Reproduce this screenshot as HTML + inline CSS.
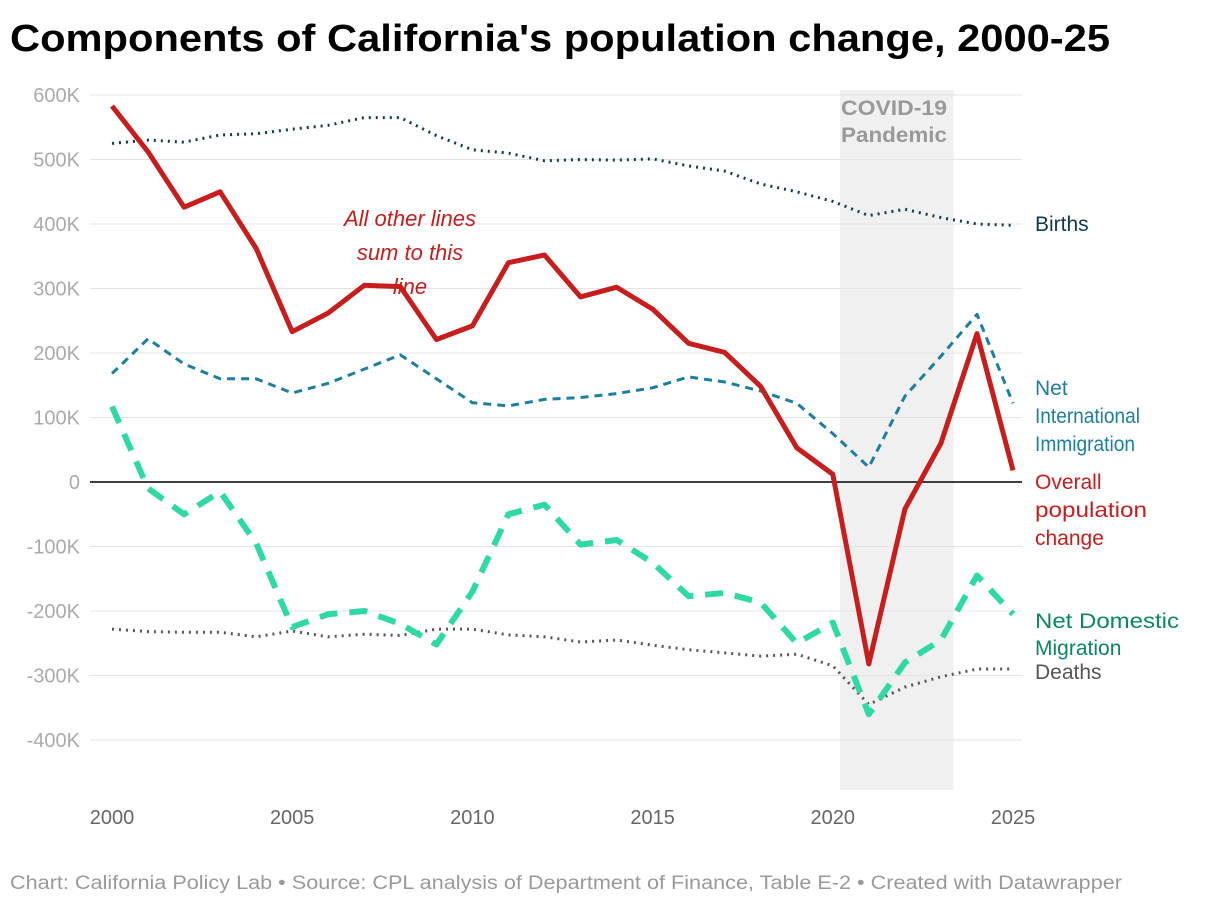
<!DOCTYPE html>
<html><head><meta charset="utf-8"><style>
body{margin:0;background:#fff;font-family:"Liberation Sans",sans-serif;}
</style></head><body>
<svg width="1220" height="906" id="chart" style="display:block">
<text x="10" y="51" font-size="38" font-weight="bold" fill="#000" textLength="1100" lengthAdjust="spacingAndGlyphs">Components of California's population change, 2000-25</text>
<rect id="covid" fill="#f0f0f0"></rect>
<g id="grid"></g>
<text x="894" y="115" font-size="21" font-weight="bold" fill="#999" text-anchor="middle"><tspan x="894" textLength="106" lengthAdjust="spacingAndGlyphs">COVID-19</tspan><tspan x="894" dy="27" textLength="106" lengthAdjust="spacingAndGlyphs">Pandemic</tspan></text>
<g id="series"></g>
<g font-size="22" font-style="italic" fill="#c71e1d" text-anchor="middle">
<text x="410" y="226">All other lines</text><text x="410" y="260">sum to this</text><text x="410" y="294">line</text></g>
<g font-size="21">
<text x="1035" y="231" fill="#0d3b4f">Births</text>
<text x="1035" y="395" fill="#1d7fa0"><tspan x="1035">Net</tspan><tspan x="1035" dy="28" textLength="105" lengthAdjust="spacingAndGlyphs">International</tspan><tspan x="1035" dy="28" textLength="100" lengthAdjust="spacingAndGlyphs">Immigration</tspan></text>
<text x="1035" y="489" fill="#c71e1d"><tspan x="1035">Overall</tspan><tspan x="1035" dy="28" textLength="112" lengthAdjust="spacingAndGlyphs">population</tspan><tspan x="1035" dy="28">change</tspan></text>
<text x="1035" y="628" fill="#0a8a5a"><tspan x="1035" textLength="144" lengthAdjust="spacingAndGlyphs">Net Domestic</tspan><tspan x="1035" dy="27">Migration</tspan></text>
<text x="1035" y="679" fill="#555">Deaths</text>
</g>
<text x="10" y="889" font-size="19" fill="#999" textLength="1112" lengthAdjust="spacingAndGlyphs">Chart: California Policy Lab • Source: CPL analysis of Department of Finance, Table E-2 • Created with Datawrapper</text>
</svg>
<script>
const years=[2000,2001,2002,2003,2004,2005,2006,2007,2008,2009,2010,2011,2012,2013,2014,2015,2016,2017,2018,2019,2020,2021,2022,2023,2024,2025];
const overall=[583,512,426,450,362,233,262,305,303,221,242,340,352,287,302,268,215,201,148,53,12,-282,-42,60,230,18];
const births=[525,530,527,538,540,547,553,565,565,537,515,510,498,500,499,501,490,482,462,450,435,413,423,410,400,398];
const nii=[168,222,183,160,160,138,153,175,197,160,123,118,128,131,137,146,163,155,141,122,75,23,133,195,260,122];
const ndm=[117,-10,-50,-15,-95,-225,-205,-200,-220,-252,-170,-50,-35,-97,-90,-125,-177,-172,-187,-250,-218,-360,-280,-245,-145,-205];
const deaths=[-228,-232,-233,-233,-240,-231,-240,-236,-238,-228,-228,-237,-240,-248,-245,-253,-260,-265,-270,-267,-285,-345,-318,-302,-290,-290];
const yTicks=[600,500,400,300,200,100,0,-100,-200,-300,-400];
const xTicks=[2000,2005,2010,2015,2020,2025];
const covid=[2020.2,2023.35];
const NS='http://www.w3.org/2000/svg';
const X=v=>112+(v-2000)*36.04;
const Y=v=>482-v*0.645;
const grid=document.getElementById('grid');
function mk(t,a,p){const e=document.createElementNS(NS,t);for(const k in a)e.setAttribute(k,a[k]);p.appendChild(e);return e;}
yTicks.forEach(t=>{
 const l=mk('line',{x1:90,x2:1022,y1:Y(t),y2:Y(t),stroke:t===0?'#000':'#e3e3e3','stroke-width':t===0?1.5:1},grid);
 
 
 const tx=mk('text',{x:80,y:Y(t)+7,'font-size':20,fill:'#aaa','text-anchor':'end'},grid);
 tx.textContent=t===0?'0':t+'K';
 
 
});
xTicks.forEach(t=>{
 const tx=mk('text',{x:X(t),y:824,'font-size':20,fill:'#666','text-anchor':'middle'},grid);
 tx.textContent=t;
 
 
});
const c=document.getElementById('covid');
c.setAttribute('x',X(covid[0]));c.setAttribute('width',X(covid[1])-X(covid[0]));
c.setAttribute('y',90);c.setAttribute('height',700);
const sg=document.getElementById('series');
function line(data,color,w,dash,name){
 const d=data.map((v,i)=>(i?'L':'M')+X(years[i]).toFixed(1)+','+Y(v).toFixed(1)).join('');
 const p=mk('path',{d:d,fill:'none',stroke:color,'stroke-width':w,'stroke-dasharray':dash,'stroke-linejoin':'round'},sg);
 
 
}
line(births,'#0d3b4f',3,'2 5','births-line');
line(deaths,'#555',3,'2 5','deaths-line');
line(nii,'#1d7fa0',3,'8 6','nii-line');
line(ndm,'#2ed9a6',6,'18 12','ndm-line');
line(overall,'#c71e1d',5,'','overall-line');
</script>
</body></html>
